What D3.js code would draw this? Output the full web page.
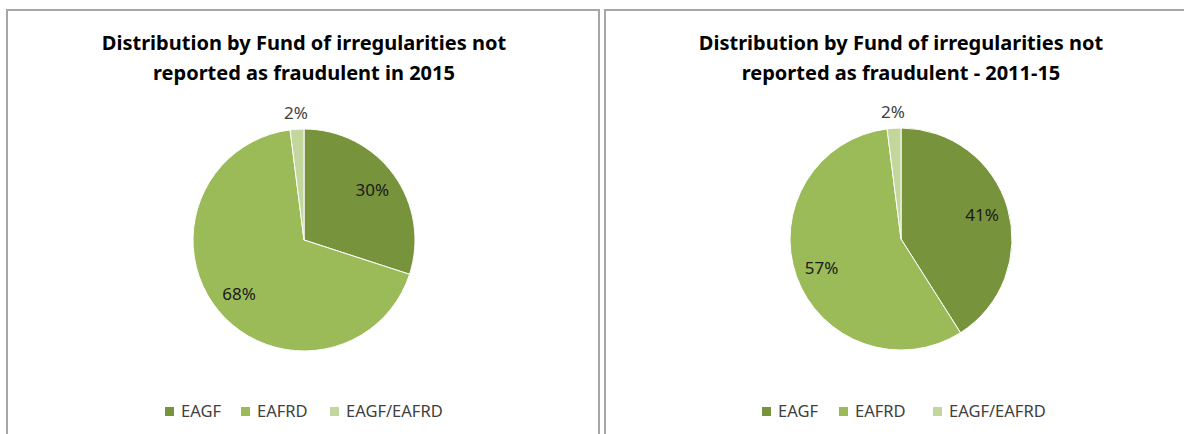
<!DOCTYPE html>
<html>
<head>
<meta charset="utf-8">
<script src="https://cdn.jsdelivr.net/npm/d3@7"></script>
<style>
  body { margin: 0; background: #fff; }
  svg { display: block; }
</style>
</head>
<body>
<script>
const categories = ["EAGF", "EAFRD", "EAGF/EAFRD"];
const values2015 = [30, 68, 2];
const values2011to15 = [41, 57, 2];
const titles2015 = ["Distribution by Fund of irregularities not", "reported as fraudulent in 2015"];
const titles2011to15 = ["Distribution by Fund of irregularities not", "reported as fraudulent - 2011-15"];
const sliceColors = ["#77933c", "#9bbb59", "#c3d69b"];

const width = 1184;
const height = 434;
const radius = 111;
const font = "'Noto Sans', 'DejaVu Sans', sans-serif";

const svg = d3.select("body")
  .append("svg")
  .attr("width", width)
  .attr("height", height);

const color = d3.scaleOrdinal()
  .domain(categories)
  .range(sliceColors);

// panel frames
const frames = [
  { x: 7, y: 10, w: 592, h: 440 },
  { x: 605, y: 10, w: 600, h: 440 }
];
frames.forEach(f => {
  svg.append("rect")
    .attr("x", f.x)
    .attr("y", f.y)
    .attr("width", f.w)
    .attr("height", f.h)
    .attr("fill", "none")
    .attr("stroke", "#a6a6a6")
    .attr("stroke-width", 2);
});

const pie = d3.pie()
  .sort(null)
  .value(d => d.value);

const arc = d3.arc()
  .innerRadius(0)
  .outerRadius(radius);

const insideLabelArc = d3.arc()
  .innerRadius(radius * 0.76)
  .outerRadius(radius * 0.76);

const outsideLabelArc = d3.arc()
  .innerRadius(radius + 16)
  .outerRadius(radius + 16);

function drawPie(cx, cy, values, titleLines, legendXs) {
  const g = svg.append("g");

  g.selectAll("text.title")
    .data(titleLines)
    .join("text")
    .attr("class", "title")
    .attr("x", cx)
    .attr("y", (d, i) => 50 + i * 30)
    .attr("text-anchor", "middle")
    .style("font-family", font)
    .style("font-weight", "bold")
    .style("font-size", "20px")
    .style("fill", "#000")
    .text(d => d);

  const data = categories.map((c, i) => ({ name: c, value: values[i] }));
  const arcs = pie(data);

  const pieG = g.append("g")
    .attr("transform", `translate(${cx}, ${cy})`);

  pieG.selectAll("path")
    .data(arcs)
    .join("path")
    .attr("d", arc)
    .attr("fill", d => color(d.data.name))
    .attr("stroke", "#fff")
    .attr("stroke-width", 1);

  pieG.selectAll("text")
    .data(arcs)
    .join("text")
    .attr("transform", d => {
      const p = d.data.value < 5 ? outsideLabelArc.centroid(d) : insideLabelArc.centroid(d);
      return `translate(${p})`;
    })
    .attr("text-anchor", "middle")
    .attr("dy", "0.35em")
    .style("font-family", font)
    .style("font-size", "17px")
    .style("fill", d => d.data.value < 5 ? "#404040" : "#1a1a1a")
    .text(d => d.data.value + "%");

  const legend = g.selectAll("g.legend")
    .data(categories)
    .join("g")
    .attr("class", "legend")
    .attr("transform", (d, i) => `translate(${legendXs[i]}, 407)`);

  legend.append("rect")
    .attr("width", 9)
    .attr("height", 9)
    .attr("fill", d => color(d));

  legend.append("text")
    .attr("x", 16)
    .attr("y", 4.5)
    .attr("dy", "0.35em")
    .style("font-family", font)
    .style("font-size", "16.5px")
    .style("fill", "#404040")
    .text(d => d);
}

drawPie(304, 240, values2015, titles2015, [165, 241, 330]);
drawPie(901, 239, values2011to15, titles2011to15, [762, 839, 933]);
</script>
</body>
</html>
